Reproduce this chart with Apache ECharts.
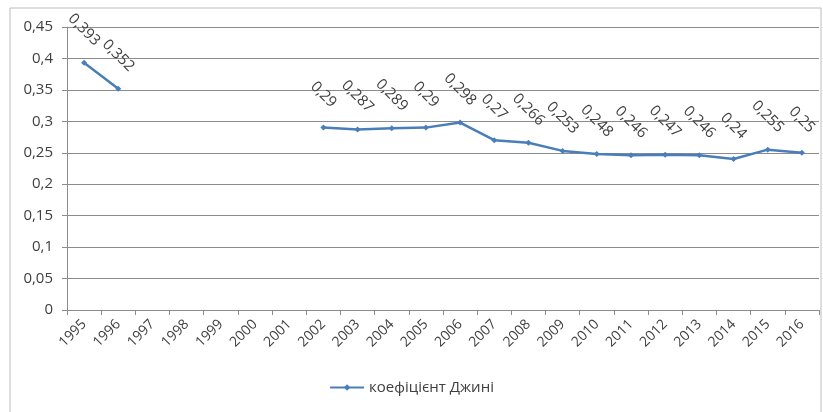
<!DOCTYPE html>
<html>
<head>
<meta charset="utf-8">
<script src="https://cdn.jsdelivr.net/npm/echarts@6/dist/echarts.min.js"></script>
<style>
  html, body { margin: 0; padding: 0; background: #fff; }
  #chart { width: 823px; height: 412px; }
</style>
</head>
<body>
<div id="chart"></div>
<script>
var years = ['1995', '1996', '1997', '1998', '1999', '2000', '2001', '2002', '2003', '2004', '2005',
    '2006', '2007', '2008', '2009', '2010', '2011', '2012', '2013', '2014', '2015', '2016'];
var gini = [0.393, 0.352, null, null, null, null, null, 0.29, 0.287, 0.289, 0.29,
    0.298, 0.27, 0.266, 0.253, 0.248, 0.246, 0.247, 0.246, 0.24, 0.255, 0.25];
var seriesName = 'коефіцієнт Джині';

function comma(v) {
    return String(v).replace('.', ',');
}

var mychart = echarts.init(document.getElementById('chart'));
var font = '"Open Sans", "DejaVu Sans", sans-serif';
var option = {
    animation: false,
    textStyle: { fontFamily: font },
    graphic: [{
        type: 'rect',
        shape: { x: 10, y: 8, width: 811, height: 420 },
        style: { fill: 'none', stroke: '#bdbdbd', lineWidth: 1 },
        silent: true
    }],
    grid: { left: 67, right: 4, top: 27, bottom: 102 },
    legend: {
        bottom: 12,
        left: 'center',
        itemWidth: 34,
        itemHeight: 8,
        itemGap: 4,
        textStyle: { fontSize: 15, color: '#404040', fontFamily: font },
        data: [seriesName]
    },
    xAxis: {
        type: 'category',
        data: years,
        axisLine: { lineStyle: { color: '#8c8c8c' } },
        axisTick: { show: true, length: 5, lineStyle: { color: '#8c8c8c' } },
        axisLabel: { rotate: 45, fontSize: 14, color: '#404040', margin: 12, interval: 0 }
    },
    yAxis: {
        type: 'value',
        min: 0,
        max: 0.45,
        interval: 0.05,
        axisLine: { show: true, lineStyle: { color: '#8c8c8c' } },
        axisTick: { show: true, length: 5, lineStyle: { color: '#8c8c8c' } },
        splitLine: { lineStyle: { color: '#8c8c8c' } },
        axisLabel: {
            fontSize: 15, color: '#404040', margin: 14,
            formatter: function (v) { return comma(+v.toFixed(2)); }
        }
    },
    series: [{
        name: seriesName,
        type: 'line',
        data: gini,
        connectNulls: false,
        symbol: 'diamond',
        symbolSize: 6,
        itemStyle: { color: '#4a7ebb' },
        lineStyle: { color: '#4a7ebb', width: 2.5 },
        label: {
            show: true,
            position: 'top',
            distance: 30,
            rotate: -45,
            align: 'center',
            verticalAlign: 'middle',
            fontSize: 15,
            color: '#404040',
            formatter: function (p) { return comma(p.value); }
        }
    }]
};
mychart.setOption(option);
</script>
</body>
</html>
